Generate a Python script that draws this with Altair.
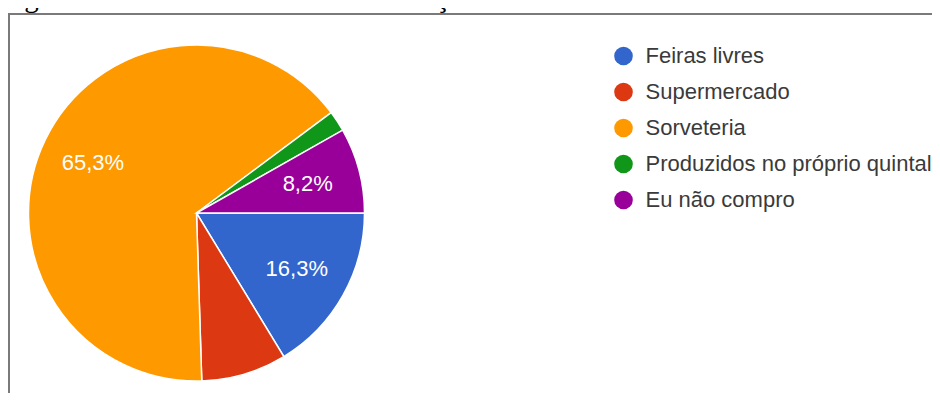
import math
import altair as alt
import pandas as pd

categories = ["Feiras livres", "Supermercado", "Sorveteria",
              "Produzidos no próprio quintal", "Eu não compro"]
values = [16.3, 8.2, 65.3, 2.0, 8.2]
labels = ["16,3%", "", "65,3%", "", "8,2%"]
colors = ["#3366CC", "#DC3912", "#FF9900", "#109618", "#990099"]
title_text = "Figura 5- Locais onde se encontra o açaí"

df = pd.DataFrame({"cat": categories, "value": values,
                   "label": labels, "idx": list(range(len(categories)))})
one = pd.DataFrame({"k": [0]})

CX, CY, R = 188.5, 205, 168
theta_scale = alt.Scale(range=[math.pi / 2, math.pi / 2 + 2 * math.pi])

box = alt.Chart(one).mark_rect(fillOpacity=0, stroke="#7a7a7a", strokeWidth=2).encode(
    x=alt.value(1), x2=alt.value(1200), y=alt.value(6), y2=alt.value(800)
)

pie = alt.Chart(df).mark_arc(outerRadius=R, stroke="white", strokeWidth=1.5).encode(
    theta=alt.Theta("value:Q", stack=True, scale=theta_scale),
    order=alt.Order("idx:Q"),
    color=alt.Color("cat:N", sort=categories,
                    scale=alt.Scale(domain=categories, range=colors),
                    legend=alt.Legend(orient="none", legendX=604.5, legendY=37,
                                      title=None, symbolType="circle",
                                      symbolSize=346, symbolStrokeWidth=0,
                                      labelFont="Liberation Sans", labelFontSize=22,
                                      labelColor="#3a3a3a", labelOffset=11,
                                      rowPadding=14, padding=0, labelLimit=400)),
    x=alt.value(CX), y=alt.value(CY),
)

text = alt.Chart(df).mark_text(radius=115, fontSize=22, font="Liberation Sans",
                               color="white", baseline="middle", align="center").encode(
    theta=alt.Theta("value:Q", stack=True, scale=theta_scale),
    order=alt.Order("idx:Q"),
    detail="cat:N",
    text="label:N",
    x=alt.value(CX), y=alt.value(CY),
)

title = alt.Chart(one).mark_text(text=title_text, font="Liberation Serif", fontSize=29,
                                 align="left", baseline="alphabetic", color="black").encode(
    x=alt.value(-8), y=alt.value(-0.7)
)

chart = alt.layer(box, pie, text, title).properties(
    width=924, height=385, padding=0, autosize=alt.AutoSizeParams(type="none")
).configure_view(stroke=None)

chart.save("out.html", embed_options={"renderer": "svg", "actions": False})
